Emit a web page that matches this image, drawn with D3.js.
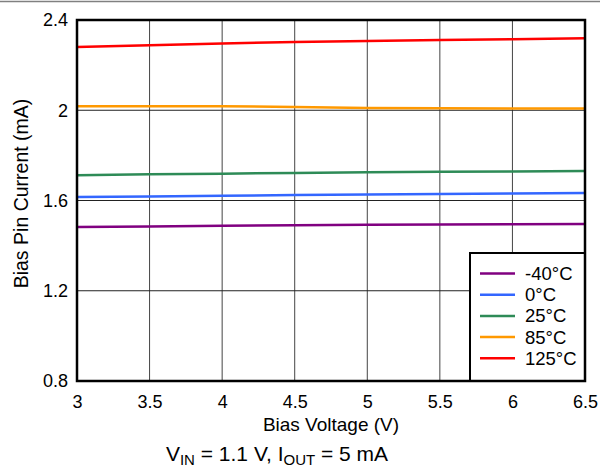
<!DOCTYPE html>
<html><head><meta charset="utf-8">
<script src="https://cdn.jsdelivr.net/npm/d3@7"></script>
<style>body{margin:0;background:#fff}svg{display:block}text{font-family:"Liberation Sans",Arial,sans-serif;fill:#000}</style>
</head><body>
<script>
const biasVoltage = [3, 3.5, 4, 4.5, 5, 5.5, 6, 6.5];
const seriesNames = ["-40°C", "0°C", "25°C", "85°C", "125°C"];
const seriesColors = ["#800080", "#3366ff", "#2e8b57", "#ff9900", "#ff0000"];
const iM40 = [1.482, 1.485, 1.488, 1.490, 1.492, 1.494, 1.495, 1.496];
const i0 = [1.615, 1.618, 1.621, 1.624, 1.627, 1.629, 1.631, 1.633];
const i25 = [1.712, 1.716, 1.719, 1.722, 1.725, 1.727, 1.729, 1.731];
const i85 = [2.018, 2.018, 2.018, 2.014, 2.010, 2.009, 2.008, 2.008];
const i125 = [2.280, 2.288, 2.296, 2.302, 2.307, 2.311, 2.315, 2.319];
const xTicks = [3, 3.5, 4, 4.5, 5, 5.5, 6, 6.5];
const yTicks = [0.8, 1.2, 1.6, 2, 2.4];

const seriesValues = [iM40, i0, i25, i85, i125];
const W = 600, H = 470;
const L = 77, R = 585, T = 20, B = 381;
const svg = d3.select("body").append("svg").attr("width", W).attr("height", H);

svg.append("line").attr("x1", 0).attr("x2", W).attr("y1", 1.5).attr("y2", 1.5)
  .attr("stroke", "#808080").attr("stroke-width", 1.5);

const x = d3.scaleLinear().domain([3, 6.5]).range([L, R]);
const y = d3.scaleLinear().domain([0.8, 2.4]).range([B, T]);

// grid
svg.append("g").selectAll("line").data(xTicks.slice(1, -1)).join("line")
  .attr("x1", d => x(d)).attr("x2", d => x(d)).attr("y1", T).attr("y2", B)
  .attr("stroke", "#444").attr("stroke-width", 1);
svg.append("g").selectAll("line").data(yTicks.slice(1, -1)).join("line")
  .attr("x1", L).attr("x2", R).attr("y1", d => y(d)).attr("y2", d => y(d))
  .attr("stroke", "#222").attr("stroke-width", 1);

// axes
const xAxis = svg.append("g").attr("transform", `translate(0,${B})`)
  .call(d3.axisBottom(x).tickValues(xTicks).tickSize(0).tickPadding(14).tickFormat(d3.format("")));
xAxis.select(".domain").remove();
xAxis.selectAll("text").style("font-size", "18px");
const yAxis = svg.append("g").attr("transform", `translate(${L},0)`)
  .call(d3.axisLeft(y).tickValues(yTicks).tickSize(0).tickPadding(9).tickFormat(d3.format("")));
yAxis.select(".domain").remove();
yAxis.selectAll("text").style("font-size", "18px");

// lines
const line = d3.line().x((d, i) => x(biasVoltage[i])).y(d => y(d));
svg.append("g").selectAll("path").data(seriesValues).join("path")
  .attr("d", d => line(d)).attr("fill", "none")
  .attr("stroke", (d, i) => seriesColors[i]).attr("stroke-width", 2.5);

// legend
const lg = svg.append("g");
lg.append("rect").attr("x", 470).attr("y", 253).attr("width", R - 470).attr("height", B - 253)
  .attr("fill", "#fff").attr("stroke", "#000").attr("stroke-width", 2);
seriesNames.forEach((n, i) => {
  const yy = 273.5 + i * 21.2;
  lg.append("line").attr("x1", 480).attr("x2", 515).attr("y1", yy).attr("y2", yy)
    .attr("stroke", seriesColors[i]).attr("stroke-width", 2.5);
  lg.append("text").attr("x", 525).attr("y", yy + 6.5).style("font-size", "18.5px").text(n);
});

// frame
svg.append("rect").attr("x", L).attr("y", T).attr("width", R - L).attr("height", B - T)
  .attr("fill", "none").attr("stroke", "#000").attr("stroke-width", 2.5);

// titles
svg.append("text").attr("x", (L + R) / 2).attr("y", 431).attr("text-anchor", "middle")
  .style("font-size", "19px").text("Bias Voltage (V)");
svg.append("text").attr("transform", `translate(28,${(T + B) / 2 - 7}) rotate(-90)`)
  .attr("text-anchor", "middle").style("font-size", "19.5px").text("Bias Pin Current (mA)");

const cap = svg.append("text").attr("x", 277).attr("y", 461).attr("text-anchor", "middle")
  .style("font-size", "21px");
cap.append("tspan").text("V");
cap.append("tspan").attr("dy", 4).style("font-size", "15px").text("IN");
cap.append("tspan").attr("dy", -4).text(" = 1.1 V, I");
cap.append("tspan").attr("dy", 4).style("font-size", "15px").text("OUT");
cap.append("tspan").attr("dy", -4).text(" = 5 mA");
</script>
</body></html>
